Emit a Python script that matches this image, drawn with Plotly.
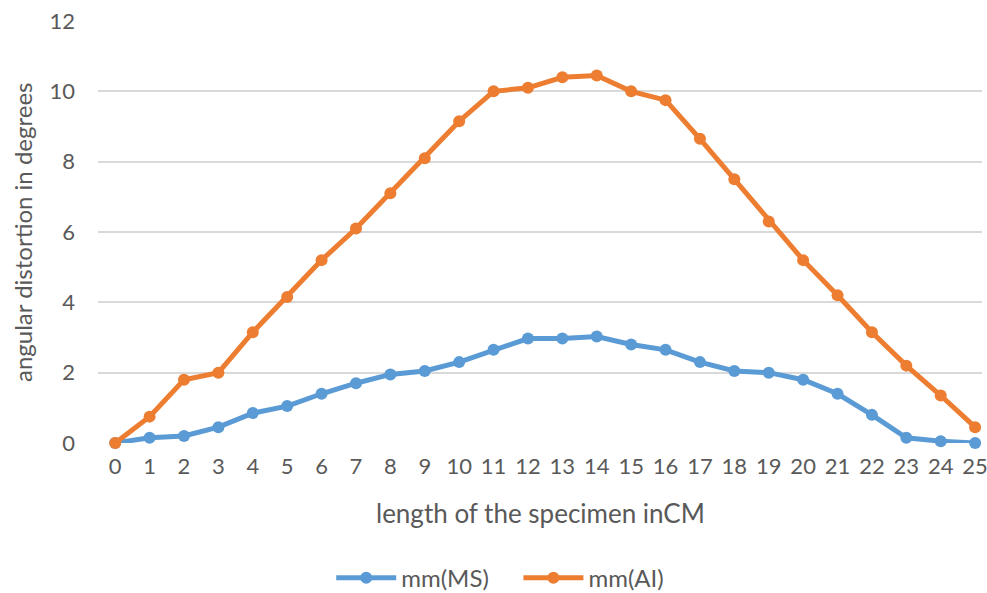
import plotly.graph_objects as go

lengths = list(range(26))
ms_values = [0, 0.15, 0.2, 0.45, 0.85, 1.05, 1.4, 1.7, 1.95, 2.05, 2.3, 2.65, 2.97, 2.97, 3.03,
             2.8, 2.65, 2.3, 2.05, 2.0, 1.8, 1.4, 0.8, 0.15, 0.05, 0.0]
ai_values = [0, 0.75, 1.8, 2.0, 3.15, 4.15, 5.2, 6.1, 7.1, 8.1, 9.15, 10.0, 10.1, 10.4, 10.45,
             10.0, 9.75, 8.65, 7.5, 6.3, 5.2, 4.2, 3.15, 2.2, 1.35, 0.45]
y_ticks = [0, 2, 4, 6, 8, 10, 12]
series_names = ["mm(MS)", "mm(AI)"]
x_title = "length of the specimen inCM"
y_title = "angular distortion in degrees"

FONT = "Lato"
GREY = "#595959"
PAD = "\u00a0\u00a0\u00a0\u00a0"

fig = go.Figure()
fig.add_trace(go.Scatter(x=lengths, y=ms_values, mode="lines+markers", name=series_names[0] + PAD,
                         line=dict(color="#5B9BD5", width=5), marker=dict(size=12, color="#5B9BD5"),
                         cliponaxis=False))
fig.add_trace(go.Scatter(x=lengths, y=ai_values, mode="lines+markers", name=series_names[1],
                         line=dict(color="#ED7D31", width=5), marker=dict(size=12, color="#ED7D31"),
                         cliponaxis=False))

fig.update_layout(
    width=987, height=593,
    margin=dict(l=98, r=5, t=21, b=150, autoexpand=False),
    paper_bgcolor="white", plot_bgcolor="white",
    font=dict(family=FONT, color=GREY, size=22),
    legend=dict(orientation="h", x=0.455, xanchor="center", y=-0.32, yanchor="middle",
                font=dict(size=24, color=GREY), itemwidth=60),
    xaxis=dict(range=[-0.5, 25.2], tickmode="array", tickvals=lengths,
               ticktext=[str(v) for v in lengths], showgrid=False, zeroline=False,
               showline=False, ticks="", tickfont=dict(size=22, color=GREY),
               ticklabelstandoff=8, automargin=False, ticklabeloverflow="allow"),
    yaxis=dict(range=[0, 12], tickmode="array", tickvals=y_ticks, showgrid=True,
               gridcolor="#D9D9D9", gridwidth=1.5, zeroline=False, showline=False, ticks="",
               ticklabelstandoff=22, tickfont=dict(size=22, color=GREY), automargin=False),
    annotations=[
        dict(text=x_title, xref="paper", yref="paper", x=0.5, y=-0.166, showarrow=False,
             xanchor="center", yanchor="middle", font=dict(size=26, color=GREY)),
        dict(text=y_title, xref="paper", yref="paper", x=-0.086, y=0.5, showarrow=False,
             textangle=-90, xanchor="center", yanchor="middle", font=dict(size=24, color=GREY)),
    ],
)

fig.write_html("out.html")
